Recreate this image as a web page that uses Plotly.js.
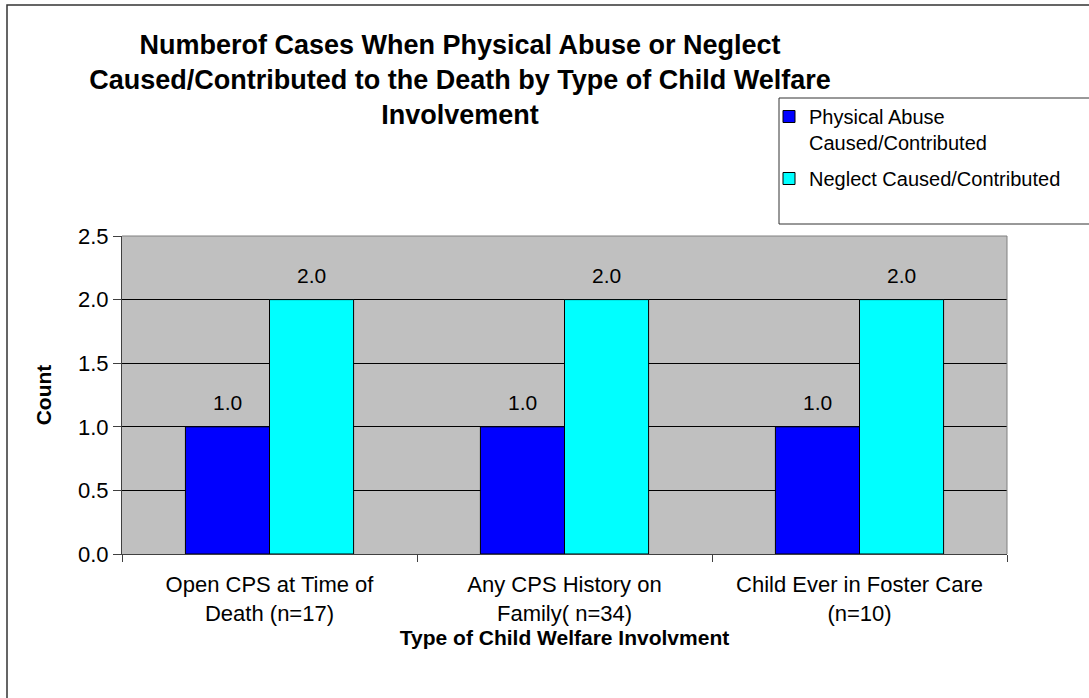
<!DOCTYPE html>
<html>
<head>
<meta charset="utf-8">
<script src="https://cdn.plot.ly/plotly-3.0.1.min.js"></script>
<style>
  html, body { margin: 0; padding: 0; background: #ffffff; }
  #chart { width: 1089px; height: 698px; }
</style>
</head>
<body>
<div id="chart"></div>
<script>
const categories = [
  "Open CPS at Time of<br>Death (n=17)",
  "Any CPS History on<br>Family( n=34)",
  "Child Ever in Foster Care<br>(n=10)"
];
const physicalAbuse = [1.0, 1.0, 1.0];
const neglect = [2.0, 2.0, 2.0];
const seriesNames = ["Physical Abuse<br>Caused/Contributed", "Neglect Caused/Contributed"];
const yTickVals = [0, 0.5, 1.0, 1.5, 2.0, 2.5];
const yTickText = ["0.0", "0.5", "1.0", "1.5", "2.0", "2.5"];

const FONT = "Liberation Sans, Arial, Helvetica, sans-serif";

const traces = [
  {
    type: "bar", name: seriesNames[0], x: categories, y: physicalAbuse,
    legendgroup: "a",
    marker: { color: "#0000FF", line: { color: "#000000", width: 1 } },
    hoverinfo: "y"
  },
  {
    type: "bar", name: seriesNames[1], x: categories, y: neglect,
    legendgroup: "b",
    marker: { color: "#00FFFF", line: { color: "#000000", width: 1 } },
    hoverinfo: "y"
  }
];

const annotations = [];
[physicalAbuse, neglect].forEach((vals, i) => {
  vals.forEach((v, j) => {
    annotations.push({
      x: categories[j], y: v, xref: "x", yref: "y",
      text: v.toFixed(1), showarrow: false,
      xshift: i === 0 ? -42 : 42, yshift: 11, yanchor: "bottom",
      font: { family: FONT, size: 21, color: "#000" }
    });
  });
});

const layout = {
  width: 1089, height: 698,
  margin: { l: 122, r: 82, t: 236, b: 144, pad: 0 },
  paper_bgcolor: "#ffffff",
  plot_bgcolor: "#C0C0C0",
  font: { family: FONT, color: "#000" },
  barmode: "group", bargap: 0.43, bargroupgap: 0,
  title: {
    text: "<b>Numberof Cases When Physical Abuse or Neglect<br>Caused/Contributed to the Death by Type of Child Welfare<br>Involvement</b>",
    font: { family: FONT, size: 27, color: "#000" },
    x: 460 / 1089, xref: "container", xanchor: "center",
    y: 1 - 54 / 698, yref: "container", yanchor: "top"
  },
  xaxis: {
    type: "category",
    tickson: "boundaries",
    ticks: "outside", ticklen: 7, tickcolor: "#404040",
    ticklabelstandoff: 11,
    showline: true, linecolor: "#404040", linewidth: 1,
    showgrid: false, zeroline: false,
    tickfont: { family: FONT, size: 22, color: "#000" },
    title: { text: "<b>Type of Child Welfare Involvment</b>", font: { family: FONT, size: 21, color: "#000" }, standoff: 0 },
    automargin: false
  },
  yaxis: {
    range: [0, 2.5],
    tickvals: yTickVals, ticktext: yTickText,
    ticks: "outside", ticklen: 8, tickcolor: "#404040",
    showline: true, linecolor: "#404040", linewidth: 1,
    showgrid: true, gridcolor: "#000000", gridwidth: 1,
    zeroline: false,
    tickfont: { family: FONT, size: 22, color: "#000" },
    title: { text: "<b>Count</b>", font: { family: FONT, size: 21, color: "#000" }, standoff: 20 },
    automargin: false
  },
  showlegend: true,
  legend: {
    x: (769 - 122) / 885, xanchor: "left",
    y: (554 - 97) / 318, yanchor: "top",
    bgcolor: "rgba(0,0,0,0)", borderwidth: 0,
    font: { family: FONT, size: 20, color: "#000" },
    valign: "top", traceorder: "grouped", tracegroupgap: 7
  },
  annotations: annotations,
  shapes: [
    { type: "rect", xref: "paper", yref: "paper",
      x0: (7 - 122) / 885, x1: 1.15, y0: -0.5, y1: (554 - 5) / 318,
      line: { color: "#333333", width: 1.5 }, fillcolor: "rgba(0,0,0,0)", layer: "above" },
    { type: "rect", xref: "paper", yref: "paper",
      x0: (779 - 122) / 885, x1: 1.12, y0: (554 - 224) / 318, y1: (554 - 98) / 318,
      line: { color: "#333333", width: 1 }, fillcolor: "rgba(0,0,0,0)", layer: "above" },
    { type: "line", xref: "paper", yref: "paper", x0: 0, x1: 1, y0: 1, y1: 1,
      line: { color: "#808080", width: 1 }, layer: "above" },
    { type: "line", xref: "paper", yref: "paper", x0: 1, x1: 1, y0: 0, y1: 1,
      line: { color: "#808080", width: 1 }, layer: "above" }
  ]
};

Plotly.newPlot("chart", traces, layout, { displayModeBar: false, staticPlot: true });
</script>
</body>
</html>
